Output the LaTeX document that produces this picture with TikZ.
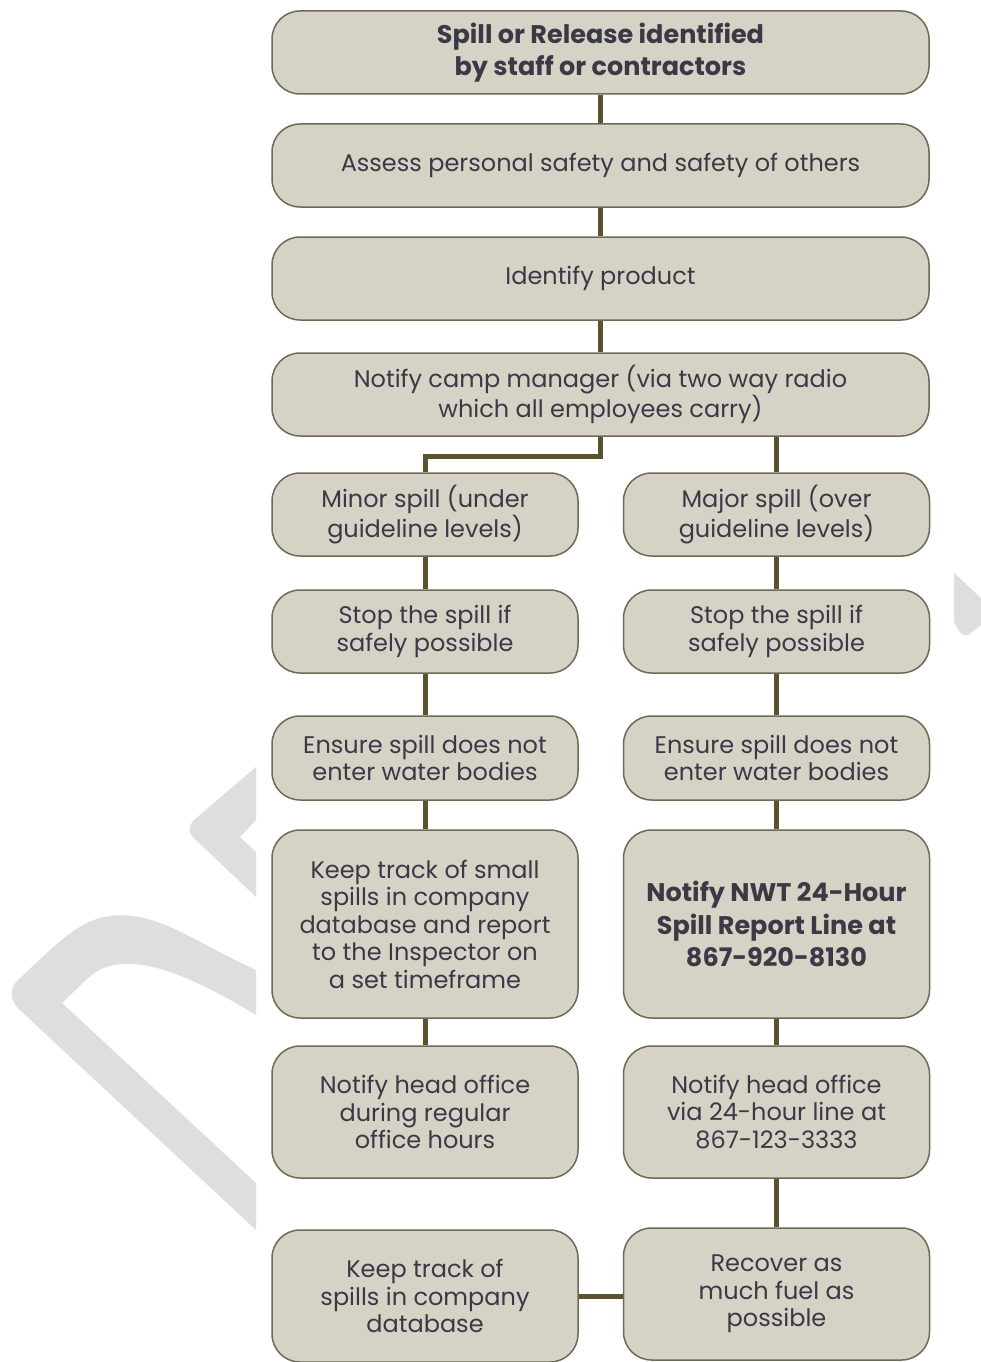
\documentclass[tikz,border=0pt]{standalone}
\usepackage{fontspec}
\setmainfont{Poppins}
\usetikzlibrary{backgrounds}
\definecolor{boxfill}{HTML}{D6D2C6}
\definecolor{boxline}{HTML}{6E6A55}
\definecolor{connc}{HTML}{5A5230}
\definecolor{txtc}{HTML}{3A3946}
\definecolor{wmark}{HTML}{DEDEDE}
\tikzset{
  stepbox/.style={draw=boxline, line width=1.5pt, fill=boxfill, rounded corners=28pt,
    align=center, text=txtc, font=\fontsize{24}{27.5}\selectfont, inner sep=0pt},
  widebox/.style={stepbox, minimum width=657pt, minimum height=83pt},
  colbox/.style={stepbox, minimum width=306pt},
  boldtext/.style={font=\bfseries\fontsize{25.5}{32.5}\selectfont},
  conn/.style={draw=connc, line width=5pt},
}
\begin{document}
\begin{tikzpicture}[x=1pt,y=-1pt]
\useasboundingbox (0,0) rectangle (981,1362);
% boxes
\node[widebox, boldtext] (b1) at (600.5,52.5) {Spill or Release identified\\by staff or contractors};
\node[widebox] (b2) at (600.5,165.5) {Assess personal safety and safety of others};
\node[widebox] (b3) at (600.5,278.5) {Identify product};
\node[widebox] (b4) at (600.5,394.5) {Notify camp manager (via two way radio\\which all employees carry)};
\node[colbox, minimum height=83pt] (l1) at (425,514.5) {Minor spill (under\\guideline levels)};
\node[colbox, minimum height=83pt] (r1) at (776.5,514.5) {Major spill (over\\guideline levels)};
\node[colbox, minimum height=83pt] (l2) at (425,631.5) {Stop the spill if\\safely possible};
\node[colbox, minimum height=83pt] (r2) at (776.5,631.5) {Stop the spill if\\safely possible};
\node[colbox, minimum height=84pt] (l3) at (425,758) {Ensure spill does not\\enter water bodies};
\node[colbox, minimum height=84pt] (r3) at (776.5,758) {Ensure spill does not\\enter water bodies};
\node[colbox, minimum height=188pt] (l4) at (425,924) {Keep track of small\\spills in company\\database and report\\to the Inspector on\\a set timeframe};
\node[colbox, minimum height=188pt, boldtext] (r4) at (776.5,924) {Notify NWT 24-Hour\\Spill Report Line at\\867-920-8130};
\node[colbox, minimum height=132pt] (l5) at (425,1112) {Notify head office\\during regular\\office hours};
\node[colbox, minimum height=132pt] (r5) at (776.5,1112) {Notify head office\\via 24-hour line at\\867-123-3333};
\node[colbox, minimum height=132pt] (l6) at (425,1296) {Keep track of\\spills in company\\database};
\node[colbox, minimum height=132pt] (r6) at (776.5,1294) {Recover as\\much fuel as\\possible};
\coordinate (split) at (500,456);
\begin{scope}[on background layer]
  \fill[white] (0,0) rectangle (981,1362);
  % watermark
  \fill[wmark] (256,970) .. controls (190,940) and (150,905) .. (100,918)
     .. controls (75,925) and (55,945) .. (16,982)
     .. controls (8,992) and (12,1004) .. (22,1012) -- (256,1230) -- (256,1183)
     -- (62,1003) -- (88,978) .. controls (110,958) and (150,950) .. (256,1015) -- cycle;
  \fill[wmark] (256,767) -- (194,820) .. controls (187,827) and (189,835) .. (197,841)
     -- (256,897) -- (256,852) -- (240,837) -- (256,820) -- cycle;
  \fill[wmark] (954,573) -- (981,598) -- (981,625) -- (968,635) .. controls (962,636) .. (954,622) -- cycle;
  % connectors
  \draw[conn] (b1.south) -- (b2.north);
  \draw[conn] (b2.south) -- (b3.north);
  \draw[conn] (b3.south) -- (b4.north);
  \draw[conn] (b4.south) |- (split) -| (l1.north);
  \draw[conn] (r1.north) -- (r1.north |- b4.south);
  \draw[conn] (l1.south) -- (l2.north);
  \draw[conn] (l2.south) -- (l3.north);
  \draw[conn] (l3.south) -- (l4.north);
  \draw[conn] (l4.south) -- (l5.north);
  \draw[conn] (r1.south) -- (r2.north);
  \draw[conn] (r2.south) -- (r3.north);
  \draw[conn] (r3.south) -- (r4.north);
  \draw[conn] (r4.south) -- (r5.north);
  \draw[conn] (r5.south) -- (r6.north);
  \draw[conn] (l6.east) -- (r6.west |- l6.east);
\end{scope}
\end{tikzpicture}
\end{document}
